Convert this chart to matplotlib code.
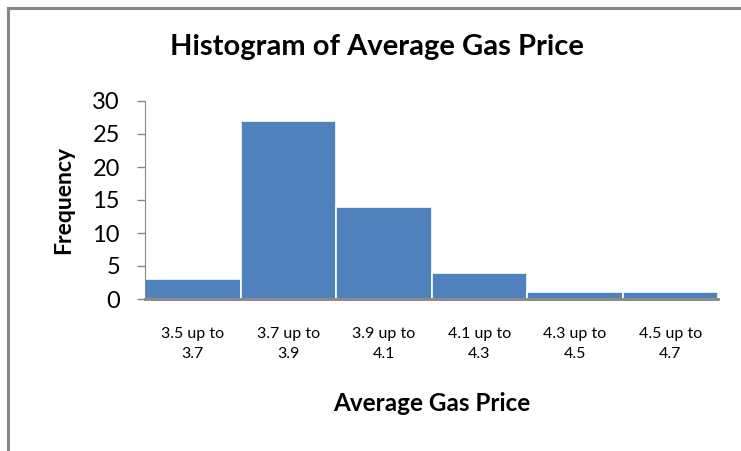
import matplotlib
matplotlib.use("Agg")
import matplotlib.pyplot as plt
from matplotlib.lines import Line2D

# Data
bins = ["3.5 up to\n3.7", "3.7 up to\n3.9", "3.9 up to\n4.1",
        "4.1 up to\n4.3", "4.3 up to\n4.5", "4.5 up to\n4.7"]
freq = [3, 27, 14, 4, 1, 1]
y_ticks = [0, 5, 10, 15, 20, 25, 30]

plt.rcParams['font.family'] = ['Lato', 'DejaVu Sans']

fig = plt.figure(figsize=(7.41, 4.51), dpi=100)
ax = fig.add_axes([145 / 741, 1 - 299 / 451, (718 - 145) / 741, (299 - 101) / 451])

ax.bar(range(len(freq)), freq, width=1.0, color='#4F81BD', edgecolor='white', linewidth=1.2)
ax.set_xlim(-0.5, len(freq) - 0.5)
ax.set_ylim(0, 30)
ax.set_yticks(y_ticks)
ax.set_yticklabels([str(t) for t in y_ticks], fontsize=17)
ax.set_xticks(range(len(bins)))
ax.set_xticklabels(bins, fontsize=11.5, linespacing=1.6)
ax.tick_params(axis='x', length=0, pad=20)
ax.tick_params(axis='y', length=6, color='#868686', width=1, pad=12)

for s in ['top', 'right']:
    ax.spines[s].set_visible(False)
ax.spines['left'].set_color('#868686')
ax.spines['bottom'].set_color('#868686')
ax.spines['bottom'].set_linewidth(2)

ax.set_xlabel('Average Gas Price', fontsize=17.5, fontweight='bold', labelpad=22)
ax.set_ylabel('Frequency', fontsize=16.5, fontweight='bold', labelpad=13)

fig.text(377 / 741, 1 - 47 / 451, 'Histogram of Average Gas Price',
         ha='center', va='center', fontsize=21, fontweight='bold')

# chart border (left and top visible)
fig.add_artist(Line2D([7.5 / 741, 7.5 / 741], [0, 1 - 7.5 / 451],
                      transform=fig.transFigure, color='#868686', lw=2.2))
fig.add_artist(Line2D([7.5 / 741, 1], [1 - 7.5 / 451, 1 - 7.5 / 451],
                      transform=fig.transFigure, color='#868686', lw=2.2))

fig.savefig('out.png', dpi=100)
